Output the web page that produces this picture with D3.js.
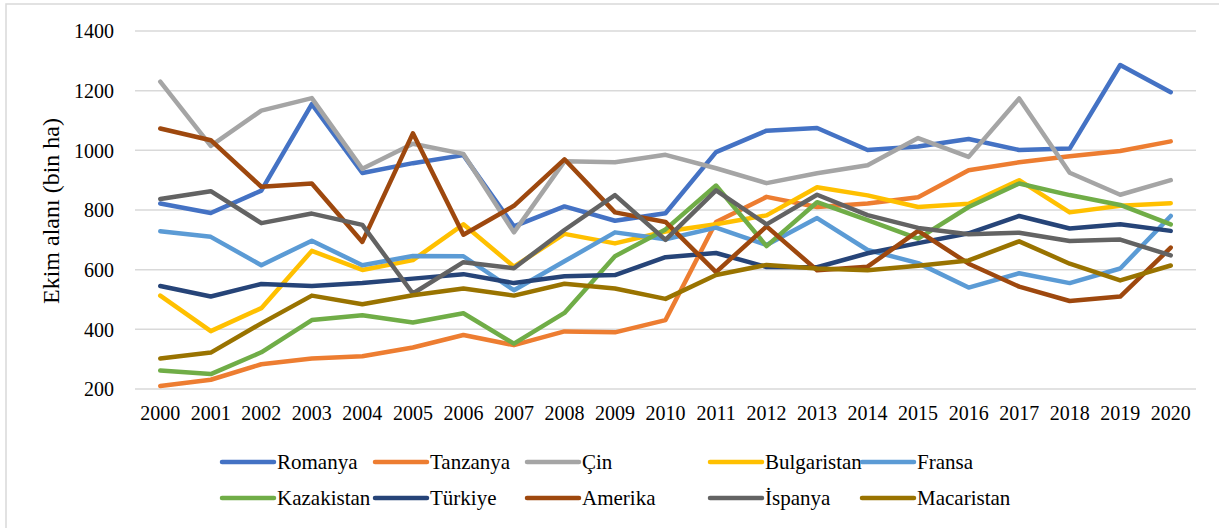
<!DOCTYPE html>
<html>
<head>
<meta charset="utf-8">
<script src="https://cdn.jsdelivr.net/npm/d3@7"></script>
<style>
  html, body { margin: 0; padding: 0; background: #fff; }
  svg { display: block; }
</style>
</head>
<body>
<svg id="chart" width="1219" height="528"></svg>
<script>
const years = ["2000","2001","2002","2003","2004","2005","2006","2007","2008","2009","2010","2011","2012","2013","2014","2015","2016","2017","2018","2019","2020"];
const yTicks = [200, 400, 600, 800, 1000, 1200, 1400];
const seriesNames = ["Romanya","Tanzanya","Çin","Bulgaristan","Fransa","Kazakistan","Türkiye","Amerika","İspanya","Macaristan"];
const seriesColors = ["#4472C4","#ED7D31","#A5A5A5","#FFC000","#5B9BD5","#70AD47","#264478","#9E480E","#636363","#997300"];

const romanya     = [822, 790, 865, 1155, 924, 957, 984, 745, 812, 764, 789, 994, 1066, 1075, 1001, 1013, 1038, 1001, 1006, 1286, 1195];
const tanzanya    = [210, 231, 283, 302, 310, 339, 381, 347, 393, 390, 431, 760, 844, 810, 822, 843, 933, 960, 980, 998, 1030];
const cin         = [1230, 1015, 1133, 1175, 938, 1022, 988, 725, 963, 960, 985, 940, 890, 923, 950, 1041, 978, 1174, 925, 851, 900];
const bulgaristan = [513, 394, 471, 663, 599, 632, 752, 610, 720, 688, 728, 752, 782, 876, 849, 810, 821, 900, 792, 814, 823];
const fransa      = [729, 710, 615, 697, 615, 646, 645, 531, 628, 725, 702, 741, 683, 773, 666, 622, 540, 588, 555, 604, 780];
const kazakistan  = [262, 250, 323, 431, 447, 423, 454, 352, 455, 645, 735, 882, 679, 826, 766, 704, 810, 889, 850, 817, 752];
const turkiye     = [545, 510, 552, 545, 555, 570, 585, 555, 578, 582, 642, 656, 609, 608, 655, 689, 722, 780, 738, 752, 730];
const amerika     = [1073, 1034, 878, 889, 693, 1057, 717, 814, 970, 792, 760, 592, 745, 598, 610, 730, 620, 543, 495, 510, 674];
const ispanya     = [837, 863, 756, 788, 750, 520, 625, 605, 733, 850, 700, 866, 752, 851, 783, 740, 719, 724, 696, 701, 648];
const macaristan  = [302, 322, 420, 513, 484, 514, 537, 513, 553, 537, 502, 582, 616, 604, 598, 613, 631, 695, 620, 564, 614];

const seriesValues = [romanya, tanzanya, cin, bulgaristan, fransa, kazakistan, turkiye, amerika, ispanya, macaristan];

const FONT = "Liberation Serif";
const svg = d3.select("#chart");

// outer chart border (only left/top visible within the frame)
svg.append("rect")
  .attr("x", 6).attr("y", 4)
  .attr("width", 1240).attr("height", 560)
  .attr("fill", "none").attr("stroke", "#d9d9d9").attr("stroke-width", 1.5);

const plot = { left: 135, right: 1196, top: 31, bottom: 389 };

const x = d3.scaleBand().domain(years).range([plot.left, plot.right]).paddingInner(0).paddingOuter(0);
const y = d3.scaleLinear().domain([200, 1400]).range([plot.bottom, plot.top]);
const xc = d => x(d) + x.bandwidth() / 2;

// gridlines
svg.append("g")
  .selectAll("line").data(yTicks).join("line")
  .attr("x1", plot.left).attr("x2", plot.right)
  .attr("y1", d => y(d)).attr("y2", d => y(d))
  .attr("stroke", "#d9d9d9").attr("stroke-width", 1.5);

// y axis labels
const yAxis = d3.axisLeft(y).tickValues(yTicks).tickSize(0).tickPadding(0).tickFormat(d3.format("d"));
const gy = svg.append("g").attr("transform", `translate(${plot.left - 21},0)`).call(yAxis);
gy.select(".domain").remove();
gy.selectAll("text").style("font-family", FONT).style("font-size", "20px").attr("fill", "#000").attr("dy", "0.34em");

// x axis labels
const xAxis = d3.axisBottom(x).tickSize(0).tickPadding(0);
const gx = svg.append("g").attr("transform", `translate(0,${plot.bottom + 17})`).call(xAxis);
gx.select(".domain").remove();
gx.selectAll("text").style("font-family", FONT).style("font-size", "20px").attr("fill", "#000").attr("dy", "0.71em");

// y axis title
svg.append("text")
  .attr("transform", `translate(59,211) rotate(-90)`)
  .attr("text-anchor", "middle")
  .style("font-family", FONT).style("font-size", "24px")
  .attr("fill", "#000")
  .text("Ekim alanı (bin ha)");

// lines
const line = d3.line().x((d, i) => xc(years[i])).y(d => y(d));
svg.append("g")
  .selectAll("path").data(seriesValues).join("path")
  .attr("d", d => line(d))
  .attr("fill", "none")
  .attr("stroke", (d, i) => seriesColors[i])
  .attr("stroke-width", 4.5)
  .attr("stroke-linejoin", "round")
  .attr("stroke-linecap", "round");

// legend
const legendCols = [222, 375, 527, 710, 862];
const legendRows = [462, 498];
const legend = svg.append("g")
  .selectAll("g").data(seriesNames).join("g")
  .attr("transform", (d, i) => `translate(${legendCols[i % 5]},${legendRows[Math.floor(i / 5)]})`);
legend.append("line")
  .attr("x1", 0).attr("x2", 52).attr("y1", 0).attr("y2", 0)
  .attr("stroke", (d, i) => seriesColors[i]).attr("stroke-width", 4.5).attr("stroke-linecap", "round");
legend.append("text")
  .attr("x", 55).attr("y", 0).attr("dy", "0.34em")
  .style("font-family", FONT).style("font-size", "21px")
  .attr("fill", "#000")
  .text(d => d);
</script>
</body>
</html>
